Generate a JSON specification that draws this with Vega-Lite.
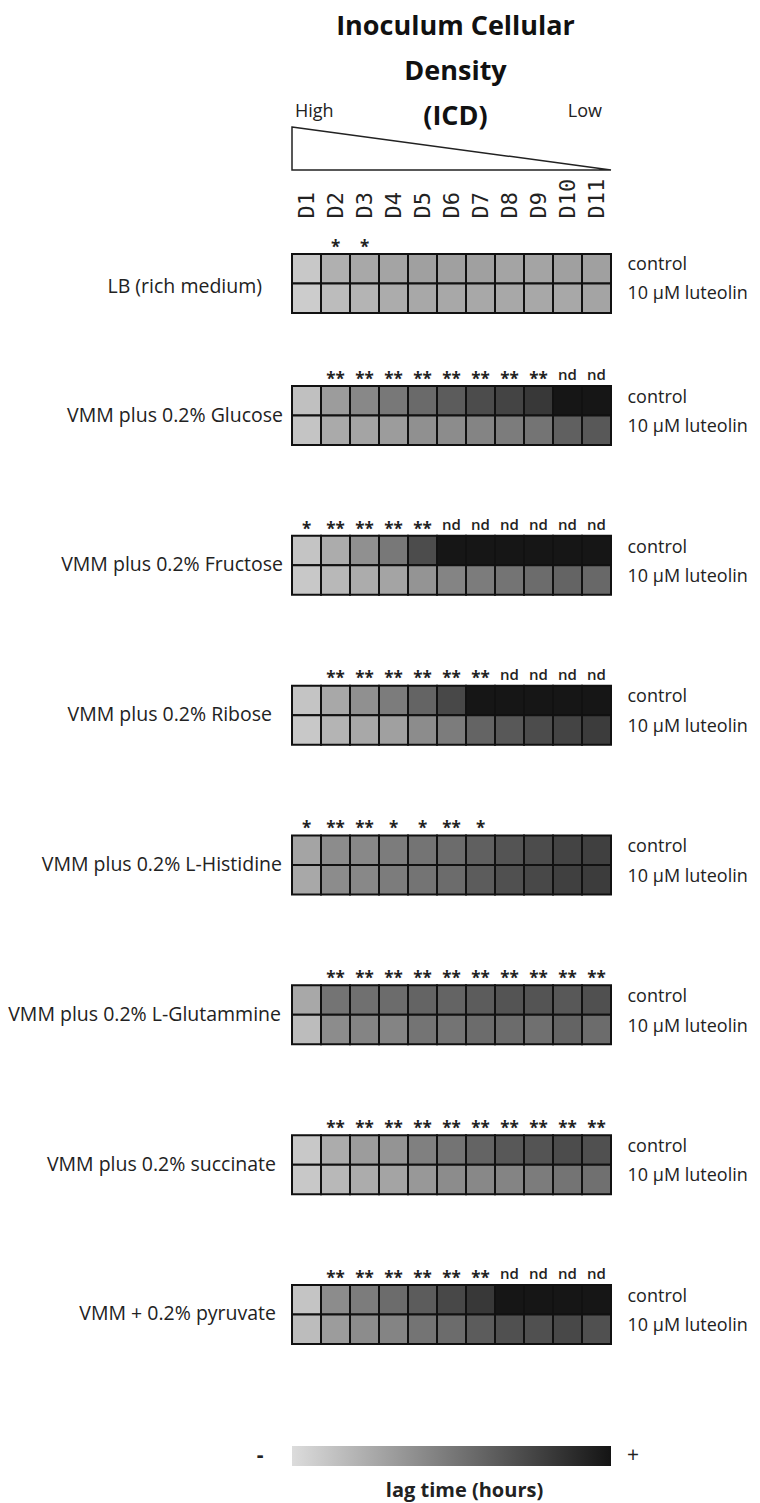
{
"$schema": "https://vega.github.io/schema/vega-lite/v6.json",
"autosize": {"type": "none"},
"padding": {"left": 292, "top": 127, "right": 468, "bottom": 1376},
"background": "white",
"config": {"view": {"stroke": null}, "font": "Open Sans", "text": {"font": "Open Sans"}, "title": {"font": "Open Sans"}, "axis": {"labelFont": "Open Sans", "titleFont": "Open Sans"}},
"datasets": {
"header": [{"pos": 0, "level": 1, "end": "High"}, {"pos": 11, "level": 0, "end": "Low"}],
"scale": [{"lo": 0, "hi": 100}],
"annots": [
{"medium":"LB","cond":"control","dose":"D2","annot":"*"},{"medium":"LB","cond":"control","dose":"D3","annot":"*"},
{"medium":"Glucose","cond":"control","dose":"D2","annot":"**"},{"medium":"Glucose","cond":"control","dose":"D3","annot":"**"},{"medium":"Glucose","cond":"control","dose":"D4","annot":"**"},{"medium":"Glucose","cond":"control","dose":"D5","annot":"**"},{"medium":"Glucose","cond":"control","dose":"D6","annot":"**"},{"medium":"Glucose","cond":"control","dose":"D7","annot":"**"},{"medium":"Glucose","cond":"control","dose":"D8","annot":"**"},{"medium":"Glucose","cond":"control","dose":"D9","annot":"**"},{"medium":"Glucose","cond":"control","dose":"D10","annot":"nd"},{"medium":"Glucose","cond":"control","dose":"D11","annot":"nd"},
{"medium":"Fructose","cond":"control","dose":"D1","annot":"*"},{"medium":"Fructose","cond":"control","dose":"D2","annot":"**"},{"medium":"Fructose","cond":"control","dose":"D3","annot":"**"},{"medium":"Fructose","cond":"control","dose":"D4","annot":"**"},{"medium":"Fructose","cond":"control","dose":"D5","annot":"**"},{"medium":"Fructose","cond":"control","dose":"D6","annot":"nd"},{"medium":"Fructose","cond":"control","dose":"D7","annot":"nd"},{"medium":"Fructose","cond":"control","dose":"D8","annot":"nd"},{"medium":"Fructose","cond":"control","dose":"D9","annot":"nd"},{"medium":"Fructose","cond":"control","dose":"D10","annot":"nd"},{"medium":"Fructose","cond":"control","dose":"D11","annot":"nd"},
{"medium":"Ribose","cond":"control","dose":"D2","annot":"**"},{"medium":"Ribose","cond":"control","dose":"D3","annot":"**"},{"medium":"Ribose","cond":"control","dose":"D4","annot":"**"},{"medium":"Ribose","cond":"control","dose":"D5","annot":"**"},{"medium":"Ribose","cond":"control","dose":"D6","annot":"**"},{"medium":"Ribose","cond":"control","dose":"D7","annot":"**"},{"medium":"Ribose","cond":"control","dose":"D8","annot":"nd"},{"medium":"Ribose","cond":"control","dose":"D9","annot":"nd"},{"medium":"Ribose","cond":"control","dose":"D10","annot":"nd"},{"medium":"Ribose","cond":"control","dose":"D11","annot":"nd"},
{"medium":"Histidine","cond":"control","dose":"D1","annot":"*"},{"medium":"Histidine","cond":"control","dose":"D2","annot":"**"},{"medium":"Histidine","cond":"control","dose":"D3","annot":"**"},{"medium":"Histidine","cond":"control","dose":"D4","annot":"*"},{"medium":"Histidine","cond":"control","dose":"D5","annot":"*"},{"medium":"Histidine","cond":"control","dose":"D6","annot":"**"},{"medium":"Histidine","cond":"control","dose":"D7","annot":"*"},
{"medium":"Glutammine","cond":"control","dose":"D2","annot":"**"},{"medium":"Glutammine","cond":"control","dose":"D3","annot":"**"},{"medium":"Glutammine","cond":"control","dose":"D4","annot":"**"},{"medium":"Glutammine","cond":"control","dose":"D5","annot":"**"},{"medium":"Glutammine","cond":"control","dose":"D6","annot":"**"},{"medium":"Glutammine","cond":"control","dose":"D7","annot":"**"},{"medium":"Glutammine","cond":"control","dose":"D8","annot":"**"},{"medium":"Glutammine","cond":"control","dose":"D9","annot":"**"},{"medium":"Glutammine","cond":"control","dose":"D10","annot":"**"},{"medium":"Glutammine","cond":"control","dose":"D11","annot":"**"},
{"medium":"Succinate","cond":"control","dose":"D2","annot":"**"},{"medium":"Succinate","cond":"control","dose":"D3","annot":"**"},{"medium":"Succinate","cond":"control","dose":"D4","annot":"**"},{"medium":"Succinate","cond":"control","dose":"D5","annot":"**"},{"medium":"Succinate","cond":"control","dose":"D6","annot":"**"},{"medium":"Succinate","cond":"control","dose":"D7","annot":"**"},{"medium":"Succinate","cond":"control","dose":"D8","annot":"**"},{"medium":"Succinate","cond":"control","dose":"D9","annot":"**"},{"medium":"Succinate","cond":"control","dose":"D10","annot":"**"},{"medium":"Succinate","cond":"control","dose":"D11","annot":"**"},
{"medium":"Pyruvate","cond":"control","dose":"D2","annot":"**"},{"medium":"Pyruvate","cond":"control","dose":"D3","annot":"**"},{"medium":"Pyruvate","cond":"control","dose":"D4","annot":"**"},{"medium":"Pyruvate","cond":"control","dose":"D5","annot":"**"},{"medium":"Pyruvate","cond":"control","dose":"D6","annot":"**"},{"medium":"Pyruvate","cond":"control","dose":"D7","annot":"**"},{"medium":"Pyruvate","cond":"control","dose":"D8","annot":"nd"},{"medium":"Pyruvate","cond":"control","dose":"D9","annot":"nd"},{"medium":"Pyruvate","cond":"control","dose":"D10","annot":"nd"},{"medium":"Pyruvate","cond":"control","dose":"D11","annot":"nd"}
],
"cells": [
{"medium":"LB","cond":"control","dose":"D1","lag":10},{"medium":"LB","cond":"control","dose":"D2","lag":22},{"medium":"LB","cond":"control","dose":"D3","lag":26},{"medium":"LB","cond":"control","dose":"D4","lag":28},{"medium":"LB","cond":"control","dose":"D5","lag":30},{"medium":"LB","cond":"control","dose":"D6","lag":30},{"medium":"LB","cond":"control","dose":"D7","lag":30},{"medium":"LB","cond":"control","dose":"D8","lag":28},{"medium":"LB","cond":"control","dose":"D9","lag":28},{"medium":"LB","cond":"control","dose":"D10","lag":30},{"medium":"LB","cond":"control","dose":"D11","lag":30},
{"medium":"LB","cond":"10 µM luteolin","dose":"D1","lag":8},{"medium":"LB","cond":"10 µM luteolin","dose":"D2","lag":16},{"medium":"LB","cond":"10 µM luteolin","dose":"D3","lag":20},{"medium":"LB","cond":"10 µM luteolin","dose":"D4","lag":24},{"medium":"LB","cond":"10 µM luteolin","dose":"D5","lag":26},{"medium":"LB","cond":"10 µM luteolin","dose":"D6","lag":26},{"medium":"LB","cond":"10 µM luteolin","dose":"D7","lag":26},{"medium":"LB","cond":"10 µM luteolin","dose":"D8","lag":26},{"medium":"LB","cond":"10 µM luteolin","dose":"D9","lag":26},{"medium":"LB","cond":"10 µM luteolin","dose":"D10","lag":26},{"medium":"LB","cond":"10 µM luteolin","dose":"D11","lag":28},
{"medium":"Glucose","cond":"control","dose":"D1","lag":14},{"medium":"Glucose","cond":"control","dose":"D2","lag":32},{"medium":"Glucose","cond":"control","dose":"D3","lag":42},{"medium":"Glucose","cond":"control","dose":"D4","lag":50},{"medium":"Glucose","cond":"control","dose":"D5","lag":57},{"medium":"Glucose","cond":"control","dose":"D6","lag":64},{"medium":"Glucose","cond":"control","dose":"D7","lag":72},{"medium":"Glucose","cond":"control","dose":"D8","lag":76},{"medium":"Glucose","cond":"control","dose":"D9","lag":82},{"medium":"Glucose","cond":"control","dose":"D10","lag":99},{"medium":"Glucose","cond":"control","dose":"D11","lag":99},
{"medium":"Glucose","cond":"10 µM luteolin","dose":"D1","lag":12},{"medium":"Glucose","cond":"10 µM luteolin","dose":"D2","lag":25},{"medium":"Glucose","cond":"10 µM luteolin","dose":"D3","lag":28},{"medium":"Glucose","cond":"10 µM luteolin","dose":"D4","lag":32},{"medium":"Glucose","cond":"10 µM luteolin","dose":"D5","lag":38},{"medium":"Glucose","cond":"10 µM luteolin","dose":"D6","lag":40},{"medium":"Glucose","cond":"10 µM luteolin","dose":"D7","lag":44},{"medium":"Glucose","cond":"10 µM luteolin","dose":"D8","lag":48},{"medium":"Glucose","cond":"10 µM luteolin","dose":"D9","lag":52},{"medium":"Glucose","cond":"10 µM luteolin","dose":"D10","lag":62},{"medium":"Glucose","cond":"10 µM luteolin","dose":"D11","lag":66},
{"medium":"Fructose","cond":"control","dose":"D1","lag":12},{"medium":"Fructose","cond":"control","dose":"D2","lag":24},{"medium":"Fructose","cond":"control","dose":"D3","lag":38},{"medium":"Fructose","cond":"control","dose":"D4","lag":50},{"medium":"Fructose","cond":"control","dose":"D5","lag":72},{"medium":"Fructose","cond":"control","dose":"D6","lag":99},{"medium":"Fructose","cond":"control","dose":"D7","lag":99},{"medium":"Fructose","cond":"control","dose":"D8","lag":99},{"medium":"Fructose","cond":"control","dose":"D9","lag":99},{"medium":"Fructose","cond":"control","dose":"D10","lag":99},{"medium":"Fructose","cond":"control","dose":"D11","lag":99},
{"medium":"Fructose","cond":"10 µM luteolin","dose":"D1","lag":10},{"medium":"Fructose","cond":"10 µM luteolin","dose":"D2","lag":18},{"medium":"Fructose","cond":"10 µM luteolin","dose":"D3","lag":24},{"medium":"Fructose","cond":"10 µM luteolin","dose":"D4","lag":28},{"medium":"Fructose","cond":"10 µM luteolin","dose":"D5","lag":36},{"medium":"Fructose","cond":"10 µM luteolin","dose":"D6","lag":44},{"medium":"Fructose","cond":"10 µM luteolin","dose":"D7","lag":48},{"medium":"Fructose","cond":"10 µM luteolin","dose":"D8","lag":52},{"medium":"Fructose","cond":"10 µM luteolin","dose":"D9","lag":56},{"medium":"Fructose","cond":"10 µM luteolin","dose":"D10","lag":60},{"medium":"Fructose","cond":"10 µM luteolin","dose":"D11","lag":58},
{"medium":"Ribose","cond":"control","dose":"D1","lag":12},{"medium":"Ribose","cond":"control","dose":"D2","lag":26},{"medium":"Ribose","cond":"control","dose":"D3","lag":38},{"medium":"Ribose","cond":"control","dose":"D4","lag":48},{"medium":"Ribose","cond":"control","dose":"D5","lag":60},{"medium":"Ribose","cond":"control","dose":"D6","lag":74},{"medium":"Ribose","cond":"control","dose":"D7","lag":99},{"medium":"Ribose","cond":"control","dose":"D8","lag":99},{"medium":"Ribose","cond":"control","dose":"D9","lag":99},{"medium":"Ribose","cond":"control","dose":"D10","lag":99},{"medium":"Ribose","cond":"control","dose":"D11","lag":99},
{"medium":"Ribose","cond":"10 µM luteolin","dose":"D1","lag":10},{"medium":"Ribose","cond":"10 µM luteolin","dose":"D2","lag":20},{"medium":"Ribose","cond":"10 µM luteolin","dose":"D3","lag":26},{"medium":"Ribose","cond":"10 µM luteolin","dose":"D4","lag":30},{"medium":"Ribose","cond":"10 µM luteolin","dose":"D5","lag":40},{"medium":"Ribose","cond":"10 µM luteolin","dose":"D6","lag":48},{"medium":"Ribose","cond":"10 µM luteolin","dose":"D7","lag":60},{"medium":"Ribose","cond":"10 µM luteolin","dose":"D8","lag":66},{"medium":"Ribose","cond":"10 µM luteolin","dose":"D9","lag":72},{"medium":"Ribose","cond":"10 µM luteolin","dose":"D10","lag":76},{"medium":"Ribose","cond":"10 µM luteolin","dose":"D11","lag":80},
{"medium":"Histidine","cond":"control","dose":"D1","lag":28},{"medium":"Histidine","cond":"control","dose":"D2","lag":40},{"medium":"Histidine","cond":"control","dose":"D3","lag":42},{"medium":"Histidine","cond":"control","dose":"D4","lag":48},{"medium":"Histidine","cond":"control","dose":"D5","lag":52},{"medium":"Histidine","cond":"control","dose":"D6","lag":56},{"medium":"Histidine","cond":"control","dose":"D7","lag":62},{"medium":"Histidine","cond":"control","dose":"D8","lag":68},{"medium":"Histidine","cond":"control","dose":"D9","lag":72},{"medium":"Histidine","cond":"control","dose":"D10","lag":76},{"medium":"Histidine","cond":"control","dose":"D11","lag":78},
{"medium":"Histidine","cond":"10 µM luteolin","dose":"D1","lag":26},{"medium":"Histidine","cond":"10 µM luteolin","dose":"D2","lag":40},{"medium":"Histidine","cond":"10 µM luteolin","dose":"D3","lag":42},{"medium":"Histidine","cond":"10 µM luteolin","dose":"D4","lag":48},{"medium":"Histidine","cond":"10 µM luteolin","dose":"D5","lag":52},{"medium":"Histidine","cond":"10 µM luteolin","dose":"D6","lag":56},{"medium":"Histidine","cond":"10 µM luteolin","dose":"D7","lag":64},{"medium":"Histidine","cond":"10 µM luteolin","dose":"D8","lag":70},{"medium":"Histidine","cond":"10 µM luteolin","dose":"D9","lag":74},{"medium":"Histidine","cond":"10 µM luteolin","dose":"D10","lag":78},{"medium":"Histidine","cond":"10 µM luteolin","dose":"D11","lag":80},
{"medium":"Glutammine","cond":"control","dose":"D1","lag":26},{"medium":"Glutammine","cond":"control","dose":"D2","lag":52},{"medium":"Glutammine","cond":"control","dose":"D3","lag":54},{"medium":"Glutammine","cond":"control","dose":"D4","lag":56},{"medium":"Glutammine","cond":"control","dose":"D5","lag":60},{"medium":"Glutammine","cond":"control","dose":"D6","lag":60},{"medium":"Glutammine","cond":"control","dose":"D7","lag":64},{"medium":"Glutammine","cond":"control","dose":"D8","lag":68},{"medium":"Glutammine","cond":"control","dose":"D9","lag":68},{"medium":"Glutammine","cond":"control","dose":"D10","lag":66},{"medium":"Glutammine","cond":"control","dose":"D11","lag":70},
{"medium":"Glutammine","cond":"10 µM luteolin","dose":"D1","lag":16},{"medium":"Glutammine","cond":"10 µM luteolin","dose":"D2","lag":40},{"medium":"Glutammine","cond":"10 µM luteolin","dose":"D3","lag":44},{"medium":"Glutammine","cond":"10 µM luteolin","dose":"D4","lag":44},{"medium":"Glutammine","cond":"10 µM luteolin","dose":"D5","lag":52},{"medium":"Glutammine","cond":"10 µM luteolin","dose":"D6","lag":52},{"medium":"Glutammine","cond":"10 µM luteolin","dose":"D7","lag":56},{"medium":"Glutammine","cond":"10 µM luteolin","dose":"D8","lag":56},{"medium":"Glutammine","cond":"10 µM luteolin","dose":"D9","lag":54},{"medium":"Glutammine","cond":"10 µM luteolin","dose":"D10","lag":60},{"medium":"Glutammine","cond":"10 µM luteolin","dose":"D11","lag":56},
{"medium":"Succinate","cond":"control","dose":"D1","lag":10},{"medium":"Succinate","cond":"control","dose":"D2","lag":24},{"medium":"Succinate","cond":"control","dose":"D3","lag":32},{"medium":"Succinate","cond":"control","dose":"D4","lag":36},{"medium":"Succinate","cond":"control","dose":"D5","lag":46},{"medium":"Succinate","cond":"control","dose":"D6","lag":52},{"medium":"Succinate","cond":"control","dose":"D7","lag":60},{"medium":"Succinate","cond":"control","dose":"D8","lag":66},{"medium":"Succinate","cond":"control","dose":"D9","lag":68},{"medium":"Succinate","cond":"control","dose":"D10","lag":72},{"medium":"Succinate","cond":"control","dose":"D11","lag":70},
{"medium":"Succinate","cond":"10 µM luteolin","dose":"D1","lag":10},{"medium":"Succinate","cond":"10 µM luteolin","dose":"D2","lag":18},{"medium":"Succinate","cond":"10 µM luteolin","dose":"D3","lag":24},{"medium":"Succinate","cond":"10 µM luteolin","dose":"D4","lag":28},{"medium":"Succinate","cond":"10 µM luteolin","dose":"D5","lag":34},{"medium":"Succinate","cond":"10 µM luteolin","dose":"D6","lag":40},{"medium":"Succinate","cond":"10 µM luteolin","dose":"D7","lag":42},{"medium":"Succinate","cond":"10 µM luteolin","dose":"D8","lag":44},{"medium":"Succinate","cond":"10 µM luteolin","dose":"D9","lag":48},{"medium":"Succinate","cond":"10 µM luteolin","dose":"D10","lag":52},{"medium":"Succinate","cond":"10 µM luteolin","dose":"D11","lag":54},
{"medium":"Pyruvate","cond":"control","dose":"D1","lag":12},{"medium":"Pyruvate","cond":"control","dose":"D2","lag":40},{"medium":"Pyruvate","cond":"control","dose":"D3","lag":48},{"medium":"Pyruvate","cond":"control","dose":"D4","lag":56},{"medium":"Pyruvate","cond":"control","dose":"D5","lag":64},{"medium":"Pyruvate","cond":"control","dose":"D6","lag":74},{"medium":"Pyruvate","cond":"control","dose":"D7","lag":82},{"medium":"Pyruvate","cond":"control","dose":"D8","lag":99},{"medium":"Pyruvate","cond":"control","dose":"D9","lag":99},{"medium":"Pyruvate","cond":"control","dose":"D10","lag":99},{"medium":"Pyruvate","cond":"control","dose":"D11","lag":99},
{"medium":"Pyruvate","cond":"10 µM luteolin","dose":"D1","lag":16},{"medium":"Pyruvate","cond":"10 µM luteolin","dose":"D2","lag":32},{"medium":"Pyruvate","cond":"10 µM luteolin","dose":"D3","lag":40},{"medium":"Pyruvate","cond":"10 µM luteolin","dose":"D4","lag":44},{"medium":"Pyruvate","cond":"10 µM luteolin","dose":"D5","lag":52},{"medium":"Pyruvate","cond":"10 µM luteolin","dose":"D6","lag":56},{"medium":"Pyruvate","cond":"10 µM luteolin","dose":"D7","lag":64},{"medium":"Pyruvate","cond":"10 µM luteolin","dose":"D8","lag":70},{"medium":"Pyruvate","cond":"10 µM luteolin","dose":"D9","lag":70},{"medium":"Pyruvate","cond":"10 µM luteolin","dose":"D10","lag":74},{"medium":"Pyruvate","cond":"10 µM luteolin","dose":"D11","lag":70}
]
},
"spacing": 84,
"bounds": "flush",
"vconcat": [
{
"width": 319, "height": 43,
"data": {"name": "header"},
"title": {"text": ["Inoculum  Cellular", "Density", "(ICD)"], "orient": "top", "anchor": "middle", "frame": "group", "fontSize": 27, "fontWeight": "bold", "color": "#111", "lineHeight": 45, "baseline": "bottom", "offset": -55, "dx": 4},
"encoding": {
"x": {"field": "pos", "type": "quantitative", "scale": {"domain": [0, 11], "nice": false, "zero": false}, "axis": null},
"y": {"field": "level", "type": "quantitative", "scale": {"domain": [0, 1], "nice": false}, "axis": null}
},
"layer": [
{"mark": {"type": "area", "fill": "white", "stroke": "#222", "strokeWidth": 1.5}},
{"transform": [{"filter": {"field": "end", "equal": "High"}}], "mark": {"type": "text", "align": "left", "baseline": "alphabetic", "dx": 3, "dy": -10, "fontSize": 18, "color": "#222"}, "encoding": {"text": {"field": "end"}}},
{"transform": [{"filter": {"field": "end", "equal": "Low"}}], "mark": {"type": "text", "align": "right", "baseline": "alphabetic", "dx": -9, "dy": -53, "fontSize": 18, "color": "#222"}, "encoding": {"text": {"field": "end"}}}
]
},
{"spacing": 73, "bounds": "flush", "vconcat": [
{
"width": 319, "height": 59,
"title": {"text": "LB (rich medium)", "orient": "left", "angle": 0, "align": "left", "baseline": "middle", "anchor": "middle", "frame": "group", "offset": 29, "fontSize": 19.5, "fontWeight": "normal", "color": "#222", "dy": 3},
"encoding": {
"x": {"field": "dose", "type": "ordinal", "scale": {"domain": ["D1","D2","D3","D4","D5","D6","D7","D8","D9","D10","D11"], "paddingInner": 0, "paddingOuter": 0}, "axis": {"orient": "top", "offset": 30, "labelAngle": -90, "labelPadding": 6, "ticks": false, "domain": false, "title": null, "labelFont": "DejaVu Sans Mono", "labelFontSize": 22, "labelColor": "#222"}},
"y": {"field": "cond", "type": "nominal", "scale": {"domain": ["control", "10 µM luteolin"], "paddingInner": 0, "paddingOuter": 0}, "axis": {"orient": "right", "title": null, "domain": false, "ticks": false, "labelPadding": 16, "labelFontSize": 18, "labelColor": "#222", "labelOffset": -4}}
},
"layer": [
{"data": {"name": "cells"}, "transform": [{"filter": {"field": "medium", "equal": "LB"}}], "mark": {"type": "rect", "stroke": "#111", "strokeWidth": 2}, "encoding": {"color": {"field": "lag", "type": "quantitative", "scale": {"domain": [0, 100], "range": ["#dcdcdc", "#141414"], "interpolate": "rgb"}, "legend": null}}},
{"data": {"name": "annots"}, "transform": [{"filter": {"field": "medium", "equal": "LB"}}, {"filter": "datum.annot != 'nd'"}], "mark": {"type": "text", "baseline": "alphabetic", "dy": -16, "fontSize": 17, "fontWeight": "bold", "color": "#222"}, "encoding": {"text": {"field": "annot"}}}
]
},
{"spacing": 90.83, "bounds": "flush", "vconcat": [
{
"width": 319, "height": 59,
"title": {"text": "VMM plus 0.2% Glucose", "orient": "left", "angle": 0, "align": "left", "baseline": "middle", "anchor": "middle", "frame": "group", "offset": 8, "fontSize": 19.5, "fontWeight": "normal", "color": "#222"},
"encoding": {
"x": {"field": "dose", "type": "ordinal", "scale": {"domain": ["D1","D2","D3","D4","D5","D6","D7","D8","D9","D10","D11"], "paddingInner": 0, "paddingOuter": 0}, "axis": null},
"y": {"field": "cond", "type": "nominal", "scale": {"domain": ["control", "10 µM luteolin"], "paddingInner": 0, "paddingOuter": 0}, "axis": {"orient": "right", "title": null, "domain": false, "ticks": false, "labelPadding": 16, "labelFontSize": 18, "labelColor": "#222", "labelOffset": -3}}
},
"layer": [
{"data": {"name": "cells"}, "transform": [{"filter": {"field": "medium", "equal": "Glucose"}}], "mark": {"type": "rect", "stroke": "#111", "strokeWidth": 2}, "encoding": {"color": {"field": "lag", "type": "quantitative", "scale": {"domain": [0, 100], "range": ["#dcdcdc", "#141414"], "interpolate": "rgb"}, "legend": null}}},
{"data": {"name": "annots"}, "transform": [{"filter": {"field": "medium", "equal": "Glucose"}}, {"filter": "datum.annot != 'nd'"}], "mark": {"type": "text", "baseline": "alphabetic", "dy": -16, "fontSize": 17, "fontWeight": "bold", "color": "#222"}, "encoding": {"text": {"field": "annot"}}},
{"data": {"name": "annots"}, "transform": [{"filter": {"field": "medium", "equal": "Glucose"}}, {"filter": "datum.annot == 'nd'"}], "mark": {"type": "text", "baseline": "alphabetic", "dy": -20.75, "fontSize": 15, "fontWeight": 600, "color": "#222"}, "encoding": {"text": {"field": "annot"}}}
]
},
{
"width": 319, "height": 59,
"title": {"text": "VMM plus 0.2% Fructose", "orient": "left", "angle": 0, "align": "left", "baseline": "middle", "anchor": "middle", "frame": "group", "offset": 8, "fontSize": 19.5, "fontWeight": "normal", "color": "#222"},
"encoding": {
"x": {"field": "dose", "type": "ordinal", "scale": {"domain": ["D1","D2","D3","D4","D5","D6","D7","D8","D9","D10","D11"], "paddingInner": 0, "paddingOuter": 0}, "axis": null},
"y": {"field": "cond", "type": "nominal", "scale": {"domain": ["control", "10 µM luteolin"], "paddingInner": 0, "paddingOuter": 0}, "axis": {"orient": "right", "title": null, "domain": false, "ticks": false, "labelPadding": 16, "labelFontSize": 18, "labelColor": "#222", "labelOffset": -3}}
},
"layer": [
{"data": {"name": "cells"}, "transform": [{"filter": {"field": "medium", "equal": "Fructose"}}], "mark": {"type": "rect", "stroke": "#111", "strokeWidth": 2}, "encoding": {"color": {"field": "lag", "type": "quantitative", "scale": {"domain": [0, 100], "range": ["#dcdcdc", "#141414"], "interpolate": "rgb"}, "legend": null}}},
{"data": {"name": "annots"}, "transform": [{"filter": {"field": "medium", "equal": "Fructose"}}, {"filter": "datum.annot != 'nd'"}], "mark": {"type": "text", "baseline": "alphabetic", "dy": -16, "fontSize": 17, "fontWeight": "bold", "color": "#222"}, "encoding": {"text": {"field": "annot"}}},
{"data": {"name": "annots"}, "transform": [{"filter": {"field": "medium", "equal": "Fructose"}}, {"filter": "datum.annot == 'nd'"}], "mark": {"type": "text", "baseline": "alphabetic", "dy": -20.75, "fontSize": 15, "fontWeight": 600, "color": "#222"}, "encoding": {"text": {"field": "annot"}}}
]
},
{
"width": 319, "height": 59,
"title": {"text": "VMM plus 0.2% Ribose", "orient": "left", "angle": 0, "align": "left", "baseline": "middle", "anchor": "middle", "frame": "group", "offset": 19, "fontSize": 19.5, "fontWeight": "normal", "color": "#222"},
"encoding": {
"x": {"field": "dose", "type": "ordinal", "scale": {"domain": ["D1","D2","D3","D4","D5","D6","D7","D8","D9","D10","D11"], "paddingInner": 0, "paddingOuter": 0}, "axis": null},
"y": {"field": "cond", "type": "nominal", "scale": {"domain": ["control", "10 µM luteolin"], "paddingInner": 0, "paddingOuter": 0}, "axis": {"orient": "right", "title": null, "domain": false, "ticks": false, "labelPadding": 16, "labelFontSize": 18, "labelColor": "#222", "labelOffset": -3}}
},
"layer": [
{"data": {"name": "cells"}, "transform": [{"filter": {"field": "medium", "equal": "Ribose"}}], "mark": {"type": "rect", "stroke": "#111", "strokeWidth": 2}, "encoding": {"color": {"field": "lag", "type": "quantitative", "scale": {"domain": [0, 100], "range": ["#dcdcdc", "#141414"], "interpolate": "rgb"}, "legend": null}}},
{"data": {"name": "annots"}, "transform": [{"filter": {"field": "medium", "equal": "Ribose"}}, {"filter": "datum.annot != 'nd'"}], "mark": {"type": "text", "baseline": "alphabetic", "dy": -16, "fontSize": 17, "fontWeight": "bold", "color": "#222"}, "encoding": {"text": {"field": "annot"}}},
{"data": {"name": "annots"}, "transform": [{"filter": {"field": "medium", "equal": "Ribose"}}, {"filter": "datum.annot == 'nd'"}], "mark": {"type": "text", "baseline": "alphabetic", "dy": -20.75, "fontSize": 15, "fontWeight": 600, "color": "#222"}, "encoding": {"text": {"field": "annot"}}}
]
},
{
"width": 319, "height": 59,
"title": {"text": "VMM plus 0.2% L-Histidine", "orient": "left", "angle": 0, "align": "left", "baseline": "middle", "anchor": "middle", "frame": "group", "offset": 9, "fontSize": 19.5, "fontWeight": "normal", "color": "#222"},
"encoding": {
"x": {"field": "dose", "type": "ordinal", "scale": {"domain": ["D1","D2","D3","D4","D5","D6","D7","D8","D9","D10","D11"], "paddingInner": 0, "paddingOuter": 0}, "axis": null},
"y": {"field": "cond", "type": "nominal", "scale": {"domain": ["control", "10 µM luteolin"], "paddingInner": 0, "paddingOuter": 0}, "axis": {"orient": "right", "title": null, "domain": false, "ticks": false, "labelPadding": 16, "labelFontSize": 18, "labelColor": "#222", "labelOffset": -3}}
},
"layer": [
{"data": {"name": "cells"}, "transform": [{"filter": {"field": "medium", "equal": "Histidine"}}], "mark": {"type": "rect", "stroke": "#111", "strokeWidth": 2}, "encoding": {"color": {"field": "lag", "type": "quantitative", "scale": {"domain": [0, 100], "range": ["#dcdcdc", "#141414"], "interpolate": "rgb"}, "legend": null}}},
{"data": {"name": "annots"}, "transform": [{"filter": {"field": "medium", "equal": "Histidine"}}, {"filter": "datum.annot != 'nd'"}], "mark": {"type": "text", "baseline": "alphabetic", "dy": -16, "fontSize": 17, "fontWeight": "bold", "color": "#222"}, "encoding": {"text": {"field": "annot"}}}
]
},
{
"width": 319, "height": 59,
"title": {"text": "VMM plus 0.2% L-Glutammine", "orient": "left", "angle": 0, "align": "left", "baseline": "middle", "anchor": "middle", "frame": "group", "offset": 10, "fontSize": 19.5, "fontWeight": "normal", "color": "#222"},
"encoding": {
"x": {"field": "dose", "type": "ordinal", "scale": {"domain": ["D1","D2","D3","D4","D5","D6","D7","D8","D9","D10","D11"], "paddingInner": 0, "paddingOuter": 0}, "axis": null},
"y": {"field": "cond", "type": "nominal", "scale": {"domain": ["control", "10 µM luteolin"], "paddingInner": 0, "paddingOuter": 0}, "axis": {"orient": "right", "title": null, "domain": false, "ticks": false, "labelPadding": 16, "labelFontSize": 18, "labelColor": "#222", "labelOffset": -3}}
},
"layer": [
{"data": {"name": "cells"}, "transform": [{"filter": {"field": "medium", "equal": "Glutammine"}}], "mark": {"type": "rect", "stroke": "#111", "strokeWidth": 2}, "encoding": {"color": {"field": "lag", "type": "quantitative", "scale": {"domain": [0, 100], "range": ["#dcdcdc", "#141414"], "interpolate": "rgb"}, "legend": null}}},
{"data": {"name": "annots"}, "transform": [{"filter": {"field": "medium", "equal": "Glutammine"}}, {"filter": "datum.annot != 'nd'"}], "mark": {"type": "text", "baseline": "alphabetic", "dy": -16, "fontSize": 17, "fontWeight": "bold", "color": "#222"}, "encoding": {"text": {"field": "annot"}}}
]
},
{
"width": 319, "height": 59,
"title": {"text": "VMM plus 0.2% succinate", "orient": "left", "angle": 0, "align": "left", "baseline": "middle", "anchor": "middle", "frame": "group", "offset": 15, "fontSize": 19.5, "fontWeight": "normal", "color": "#222"},
"encoding": {
"x": {"field": "dose", "type": "ordinal", "scale": {"domain": ["D1","D2","D3","D4","D5","D6","D7","D8","D9","D10","D11"], "paddingInner": 0, "paddingOuter": 0}, "axis": null},
"y": {"field": "cond", "type": "nominal", "scale": {"domain": ["control", "10 µM luteolin"], "paddingInner": 0, "paddingOuter": 0}, "axis": {"orient": "right", "title": null, "domain": false, "ticks": false, "labelPadding": 16, "labelFontSize": 18, "labelColor": "#222", "labelOffset": -3}}
},
"layer": [
{"data": {"name": "cells"}, "transform": [{"filter": {"field": "medium", "equal": "Succinate"}}], "mark": {"type": "rect", "stroke": "#111", "strokeWidth": 2}, "encoding": {"color": {"field": "lag", "type": "quantitative", "scale": {"domain": [0, 100], "range": ["#dcdcdc", "#141414"], "interpolate": "rgb"}, "legend": null}}},
{"data": {"name": "annots"}, "transform": [{"filter": {"field": "medium", "equal": "Succinate"}}, {"filter": "datum.annot != 'nd'"}], "mark": {"type": "text", "baseline": "alphabetic", "dy": -16, "fontSize": 17, "fontWeight": "bold", "color": "#222"}, "encoding": {"text": {"field": "annot"}}}
]
},
{"spacing": 102, "bounds": "flush", "vconcat": [
{
"width": 319, "height": 59,
"title": {"text": "VMM + 0.2% pyruvate", "orient": "left", "angle": 0, "align": "left", "baseline": "middle", "anchor": "middle", "frame": "group", "offset": 15, "fontSize": 19.5, "fontWeight": "normal", "color": "#222"},
"encoding": {
"x": {"field": "dose", "type": "ordinal", "scale": {"domain": ["D1","D2","D3","D4","D5","D6","D7","D8","D9","D10","D11"], "paddingInner": 0, "paddingOuter": 0}, "axis": null},
"y": {"field": "cond", "type": "nominal", "scale": {"domain": ["control", "10 µM luteolin"], "paddingInner": 0, "paddingOuter": 0}, "axis": {"orient": "right", "title": null, "domain": false, "ticks": false, "labelPadding": 16, "labelFontSize": 18, "labelColor": "#222", "labelOffset": -3}}
},
"layer": [
{"data": {"name": "cells"}, "transform": [{"filter": {"field": "medium", "equal": "Pyruvate"}}], "mark": {"type": "rect", "stroke": "#111", "strokeWidth": 2}, "encoding": {"color": {"field": "lag", "type": "quantitative", "scale": {"domain": [0, 100], "range": ["#dcdcdc", "#141414"], "interpolate": "rgb"}, "legend": null}}},
{"data": {"name": "annots"}, "transform": [{"filter": {"field": "medium", "equal": "Pyruvate"}}, {"filter": "datum.annot != 'nd'"}], "mark": {"type": "text", "baseline": "alphabetic", "dy": -16, "fontSize": 17, "fontWeight": "bold", "color": "#222"}, "encoding": {"text": {"field": "annot"}}},
{"data": {"name": "annots"}, "transform": [{"filter": {"field": "medium", "equal": "Pyruvate"}}, {"filter": "datum.annot == 'nd'"}], "mark": {"type": "text", "baseline": "alphabetic", "dy": -20.75, "fontSize": 15, "fontWeight": 600, "color": "#222"}, "encoding": {"text": {"field": "annot"}}}
]
},
{
"width": 319, "height": 20,
"data": {"name": "scale"},
"encoding": {"x": {"field": "lo", "type": "quantitative", "scale": {"domain": [0, 100], "nice": false}, "axis": {"orient": "bottom", "title": "lag time (hours)", "labels": false, "ticks": false, "domain": false, "grid": false, "titleFontSize": 20, "titleFontWeight": "bold", "titleColor": "#222", "titlePadding": 15, "titleX": 172}}},
"layer": [
{"mark": {"type": "rect", "color": {"gradient": "linear", "x1": 0, "x2": 1, "y1": 0, "y2": 0, "stops": [{"offset": 0, "color": "#dcdcdc"}, {"offset": 1, "color": "#141414"}]}}, "encoding": {"x2": {"field": "hi"}}},
{"mark": {"type": "text", "align": "center", "baseline": "middle", "dx": -32, "fontSize": 21, "fontWeight": "bold", "color": "#222"}, "encoding": {"text": {"value": "-"}}},
{"mark": {"type": "text", "align": "center", "baseline": "middle", "dx": 22, "fontSize": 21, "color": "#222"}, "encoding": {"x": {"field": "hi", "type": "quantitative"}, "text": {"value": "+"}}}
]
}
]}
]}
]}
]
}
